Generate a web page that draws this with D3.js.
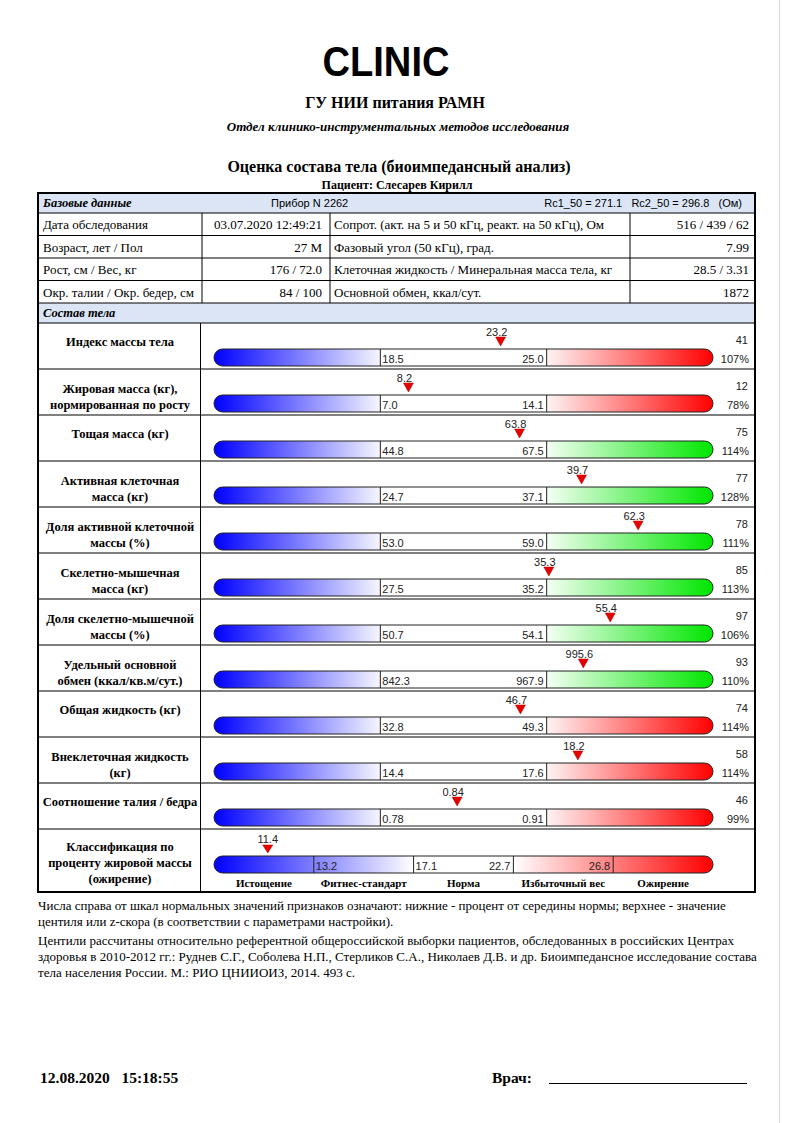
<!doctype html>
<html>
<head>
<meta charset="utf-8">
<script src="https://d3js.org/d3.v7.min.js"></script>
<style>
  body { margin:0; background:#fff; }
  .serif { font-family:"Liberation Serif","Times New Roman",serif; }
  .sans { font-family:"Liberation Sans",Arial,sans-serif; }
</style>
</head>
<body>
<div class="page"></div>
<script>
// --- basic data ---
var baseLeft = ["Дата обследования", "Возраст, лет / Пол", "Рост, см / Вес, кг", "Окр. талии / Окр. бедер, см"];
var baseLeftVal = ["03.07.2020 12:49:21", "27 М", "176 / 72.0", "84 / 100"];
var baseRight = ["Сопрот. (акт. на 5 и 50 кГц, реакт. на 50 кГц), Ом", "Фазовый угол (50 кГц), град.",
                 "Клеточная жидкость / Минеральная масса тела, кг", "Основной обмен, ккал/сут."];
var baseRightVal = ["516 / 439 / 62", "7.99", "28.5 / 3.31", "1872"];

// --- body composition ---
var rowLabels = [
  ["Индекс массы тела"],
  ["Жировая масса (кг),", "нормированная по росту"],
  ["Тощая масса (кг)"],
  ["Активная клеточная", "масса (кг)"],
  ["Доля активной клеточной", "массы (%)"],
  ["Скелетно-мышечная", "масса (кг)"],
  ["Доля скелетно-мышечной", "массы (%)"],
  ["Удельный основной", "обмен (ккал/кв.м/сут.)"],
  ["Общая жидкость (кг)"],
  ["Внеклеточная жидкость", "(кг)"],
  ["Соотношение талия / бедра"]
];
var normLow  = [18.5, 7.0, 44.8, 24.7, 53.0, 27.5, 50.7, 842.3, 32.8, 14.4, 0.78];
var normHigh = [25.0, 14.1, 67.5, 37.1, 59.0, 35.2, 54.1, 967.9, 49.3, 17.6, 0.91];
var values   = [23.2, 8.2, 63.8, 39.7, 62.3, 35.3, 55.4, 995.6, 46.7, 18.2, 0.84];
var decimals = [1, 1, 1, 1, 1, 1, 1, 1, 1, 1, 2];
var centiles = [41, 12, 75, 77, 78, 85, 97, 93, 74, 58, 46];
var percents = [107, 78, 114, 128, 111, 113, 106, 110, 114, 114, 99];
var highKind = ["red", "red", "green", "green", "green", "green", "green", "green", "red", "red", "red"];

var fatBounds = [13.2, 17.1, 22.7, 26.8];
var fatValue = 11.4;
var fatClasses = ["Истощение", "Фитнес-стандарт", "Норма", "Избыточный вес", "Ожирение"];

var W = 794, H = 1123;
var svg = d3.select(".page").append("svg").attr("width", W).attr("height", H);

var defs = svg.append("defs");
function grad(id, c1, c2, x1, x2) {
  var g = defs.append("linearGradient").attr("id", id).attr("gradientUnits", "userSpaceOnUse")
    .attr("x1", x1).attr("x2", x2).attr("y1", 0).attr("y2", 0);
  g.append("stop").attr("offset", 0).attr("stop-color", c1);
  g.append("stop").attr("offset", 1).attr("stop-color", c2);
}

// page edge
svg.append("line").attr("x1", 779.5).attr("x2", 779.5).attr("y1", 0).attr("y2", H)
  .attr("stroke", "#d8d8d8");

// --- titles ---
svg.append("text").attr("class", "sans").attr("x", 386).attr("y", 76).attr("text-anchor", "middle")
  .attr("font-size", 42).attr("font-weight", "bold").attr("textLength", 127)
  .attr("lengthAdjust", "spacingAndGlyphs").text("CLINIC");
svg.append("text").attr("class", "serif").attr("x", 395).attr("y", 108).attr("text-anchor", "middle")
  .attr("font-size", 16).attr("font-weight", "bold").text("ГУ НИИ питания РАМН");
svg.append("text").attr("class", "serif").attr("x", 398).attr("y", 131).attr("text-anchor", "middle")
  .attr("font-size", 13).attr("font-style", "italic").attr("font-weight", "bold").text("Отдел клинико-инструментальных методов исследования");
svg.append("text").attr("class", "serif").attr("x", 399).attr("y", 172).attr("text-anchor", "middle")
  .attr("font-size", 16).attr("font-weight", "bold").text("Оценка состава тела (биоимпедансный анализ)");
svg.append("text").attr("class", "serif").attr("x", 397).attr("y", 189).attr("text-anchor", "middle")
  .attr("font-size", 12).attr("font-weight", "bold").text("Пациент: Слесарев Кирилл");

// --- main table frame ---
var L = 38, R = 755, T = 193, B = 892;
var headFill = "#dbe5f6";

svg.append("rect").attr("x", L).attr("y", T).attr("width", R - L).attr("height", 20).attr("fill", headFill);
svg.append("rect").attr("x", L).attr("y", 303).attr("width", R - L).attr("height", 20).attr("fill", headFill);

svg.append("text").attr("class", "serif").attr("x", 43).attr("y", 207).attr("font-size", 12.5)
  .attr("font-weight", "bold").attr("font-style", "italic").text("Базовые данные");
svg.append("text").attr("class", "sans").attr("x", 271).attr("y", 207).attr("font-size", 11)
  .text("Прибор N 2262");
svg.append("text").attr("class", "sans").attr("x", 742).attr("y", 207).attr("font-size", 11)
  .attr("text-anchor", "end").attr("xml:space", "preserve").text("Rc1_50 = 271.1   Rc2_50 = 296.8   (Ом)");
svg.append("text").attr("class", "serif").attr("x", 43).attr("y", 317).attr("font-size", 12.5)
  .attr("font-weight", "bold").attr("font-style", "italic").text("Состав тела");

// basic rows
var baseY = d3.scaleBand().domain(d3.range(baseLeft.length)).range([213, 303]);
var bRows = svg.append("g").selectAll("g").data(baseLeft).enter().append("g")
  .attr("transform", function(d, i) { return "translate(0," + baseY(i) + ")"; });
bRows.append("line").attr("x1", L).attr("x2", R).attr("y1", 0).attr("y2", 0).attr("stroke", "#000");
bRows.append("text").attr("class", "serif").attr("x", 43).attr("y", 16).attr("font-size", 13)
  .text(function(d) { return d; });
bRows.append("text").attr("class", "serif").attr("x", 322).attr("y", 16).attr("font-size", 13)
  .attr("text-anchor", "end").text(function(d, i) { return baseLeftVal[i]; });
bRows.append("text").attr("class", "serif").attr("x", 334).attr("y", 16).attr("font-size", 13)
  .text(function(d, i) { return baseRight[i]; });
bRows.append("text").attr("class", "serif").attr("x", 749).attr("y", 16).attr("font-size", 13)
  .attr("text-anchor", "end").text(function(d, i) { return baseRightVal[i]; });
[202, 330, 630].forEach(function(x) {
  svg.append("line").attr("x1", x).attr("x2", x).attr("y1", 213).attr("y2", 303).attr("stroke", "#000");
});
svg.append("line").attr("x1", L).attr("x2", R).attr("y1", 303).attr("y2", 303).attr("stroke", "#000");
svg.append("line").attr("x1", L).attr("x2", R).attr("y1", 323).attr("y2", 323).attr("stroke", "#000");

// --- composition rows ---
var rowY = d3.scaleBand().domain(d3.range(rowLabels.length)).range([323, 829]);
var seg = d3.scaleLinear().domain([0, 3]).range([214, 713]);
var barH = 17, barOff = 26, rad = 8.5;

grad("gBlue", "#0000ff", "#f6f6ff", seg(0), seg(1));
grad("gRed", "#fff4f4", "#ff0000", seg(2), seg(3));
grad("gGreen", "#f4fff4", "#00e600", seg(2), seg(3));

function roundBar(g, x0, x1, y) {
  return "M" + (x0 + rad) + "," + y + "H" + (x1 - rad) +
    "A" + rad + "," + rad + " 0 0 1 " + (x1 - rad) + "," + (y + barH) +
    "H" + (x0 + rad) + "A" + rad + "," + rad + " 0 0 1 " + (x0 + rad) + "," + y + "Z";
}

var rows = svg.append("g").selectAll("g").data(rowLabels).enter().append("g")
  .attr("transform", function(d, i) { return "translate(0," + rowY(i) + ")"; });

rows.append("line").attr("x1", L).attr("x2", R).attr("y1", 46).attr("y2", 46).attr("stroke", "#000");

rows.each(function(lines, i) {
  var g = d3.select(this);
  var y0 = lines.length === 1 ? 23 : 24;
  lines.forEach(function(t, k) {
    g.append("text").attr("class", "serif").attr("x", 120).attr("y", y0 + k * 16)
      .attr("text-anchor", "middle").attr("font-size", 12.5).attr("font-weight", "bold").text(t);
  });

  var x = d3.scaleLinear().domain([normLow[i], normHigh[i]]).range([seg(1), seg(2)]);
  var fmt = d3.format("." + decimals[i] + "f");
  var by = barOff;
  var clipId = "clip" + i;
  defs.append("clipPath").attr("id", clipId).append("path")
    .attr("d", roundBar(g, seg(0), seg(3), rowY(i) + by));

  var bar = g.append("g").attr("clip-path", "url(#" + clipId + ")")
    .attr("transform", "translate(0," + (-rowY(i)) + ")");
  bar.append("rect").attr("x", seg(0)).attr("y", rowY(i) + by).attr("width", seg(1) - seg(0)).attr("height", barH)
    .attr("fill", "url(#gBlue)");
  bar.append("rect").attr("x", seg(1)).attr("y", rowY(i) + by).attr("width", seg(2) - seg(1)).attr("height", barH)
    .attr("fill", "#fff");
  bar.append("rect").attr("x", seg(2)).attr("y", rowY(i) + by).attr("width", seg(3) - seg(2)).attr("height", barH)
    .attr("fill", highKind[i] === "red" ? "url(#gRed)" : "url(#gGreen)");
  g.append("path").attr("d", roundBar(g, seg(0), seg(3), by)).attr("fill", "none").attr("stroke", "#222");
  [seg(1), seg(2)].forEach(function(sx) {
    g.append("line").attr("x1", sx).attr("x2", sx).attr("y1", by).attr("y2", by + barH).attr("stroke", "#222");
  });

  g.append("text").attr("class", "sans").attr("x", seg(1) + 2).attr("y", by + 14).attr("font-size", 11)
    .attr("fill", "#222").text(fmt(normLow[i]));
  g.append("text").attr("class", "sans").attr("x", seg(2) - 3).attr("y", by + 14).attr("font-size", 11)
    .attr("text-anchor", "end").attr("fill", "#222").text(fmt(normHigh[i]));

  var mx = x(values[i]);
  g.append("path").attr("d", "M" + (mx - 5) + ",14L" + (mx + 5) + ",14L" + mx + ",23Z")
    .attr("fill", "#e60000").attr("stroke", "#b00000").attr("stroke-width", 0.5);
  g.append("text").attr("class", "sans").attr("x", mx - 4).attr("y", 13).attr("font-size", 11)
    .attr("text-anchor", "middle").attr("fill", "#222").text(fmt(values[i]));

  g.append("text").attr("class", "sans").attr("x", 748).attr("y", 21).attr("font-size", 11)
    .attr("text-anchor", "end").attr("fill", "#222").text(centiles[i]);
  g.append("text").attr("class", "sans").attr("x", 749).attr("y", 40).attr("font-size", 11)
    .attr("text-anchor", "end").attr("fill", "#222").text(percents[i] + "%");
});

// --- fat classification row ---
var fy = 829;
var fseg = d3.scaleLinear().domain([0, 5]).range([214, 713]);
var fx = d3.scaleLinear().domain(fatBounds).range([fseg(1), fseg(2), fseg(3), fseg(4)]);
var fg = svg.append("g").attr("transform", "translate(0," + fy + ")");
["Классификация по", "проценту жировой массы", "(ожирение)"].forEach(function(t, k) {
  fg.append("text").attr("class", "serif").attr("x", 120).attr("y", 22 + k * 16).attr("text-anchor", "middle")
    .attr("font-size", 12.5).attr("font-weight", "bold").text(t);
});
grad("gFatBlue", "#0000ff", "#ffffff", fseg(0), fseg(2));
grad("gFatRed", "#ffffff", "#ff0000", fseg(3), fseg(5));
var fby = 27;
defs.append("clipPath").attr("id", "clipFat").append("path").attr("d", roundBar(null, fseg(0), fseg(5), fy + fby));
var fbar = fg.append("g").attr("clip-path", "url(#clipFat)").attr("transform", "translate(0," + (-fy) + ")");
fbar.append("rect").attr("x", fseg(0)).attr("y", fy + fby).attr("width", fseg(2) - fseg(0)).attr("height", barH)
  .attr("fill", "url(#gFatBlue)");
fbar.append("rect").attr("x", fseg(2)).attr("y", fy + fby).attr("width", fseg(3) - fseg(2)).attr("height", barH)
  .attr("fill", "#fff");
fbar.append("rect").attr("x", fseg(3)).attr("y", fy + fby).attr("width", fseg(5) - fseg(3)).attr("height", barH)
  .attr("fill", "url(#gFatRed)");
fg.append("path").attr("d", roundBar(null, fseg(0), fseg(5), fby)).attr("fill", "none").attr("stroke", "#222");
fatBounds.forEach(function(b, k) {
  var sx = fx(b);
  fg.append("line").attr("x1", sx).attr("x2", sx).attr("y1", fby).attr("y2", fby + barH).attr("stroke", "#222");
  var left = (k === 0 || k === 1);
  var tx = left ? sx + 2 : sx - 3;
  fg.append("text").attr("class", "sans").attr("x", tx).attr("y", fby + 14).attr("font-size", 11)
    .attr("text-anchor", left ? "start" : "end").attr("fill", "#222").text(d3.format(".1f")(b));
});
var fmx = fx(fatValue);
fg.append("path").attr("d", "M" + (fmx - 5) + ",16L" + (fmx + 5) + ",16L" + fmx + ",24Z")
  .attr("fill", "#e60000").attr("stroke", "#b00000").attr("stroke-width", 0.5);
fg.append("text").attr("class", "sans").attr("x", fmx).attr("y", 14).attr("font-size", 11)
  .attr("text-anchor", "middle").attr("fill", "#222").text(d3.format(".1f")(fatValue));
fg.selectAll(".cls").data(fatClasses).enter().append("text").attr("class", "serif")
  .attr("x", function(d, k) { return (fseg(k) + fseg(k + 1)) / 2; }).attr("y", 58)
  .attr("text-anchor", "middle").attr("font-size", 11).attr("font-weight", "bold").text(function(d) { return d; });

// label column + outer frame
svg.append("line").attr("x1", 200.5).attr("x2", 200.5).attr("y1", 323).attr("y2", B).attr("stroke", "#000");
svg.append("rect").attr("x", L).attr("y", T).attr("width", R - L).attr("height", B - T)
  .attr("fill", "none").attr("stroke", "#000").attr("stroke-width", 2);

// --- notes ---
var notes = [
  ["Числа справа от шкал нормальных значений признаков означают: нижние - процент от середины нормы; верхнее - значение",
   "центиля или z-скора (в соответствии с параметрами настройки)."],
  ["Центили рассчитаны относительно референтной общероссийской выборки пациентов, обследованных в российских Центрах",
   "здоровья в 2010-2012 гг.: Руднев С.Г., Соболева Н.П., Стерликов С.А., Николаев Д.В. и др. Биоимпедансное исследование состава",
   "тела населения России. М.: РИО ЦНИИОИЗ, 2014. 493 с."]
];
var ny = 910;
notes.forEach(function(p) {
  p.forEach(function(t) {
    svg.append("text").attr("class", "serif").attr("x", 38).attr("y", ny).attr("font-size", 13).text(t);
    ny += 16;
  });
  ny += 3;
});

// --- footer ---
svg.append("text").attr("class", "serif").attr("x", 40).attr("y", 1083).attr("font-size", 15.5)
  .attr("font-weight", "bold").attr("xml:space", "preserve").text("12.08.2020   15:18:55");
svg.append("text").attr("class", "serif").attr("x", 492).attr("y", 1083).attr("font-size", 15.5)
  .attr("font-weight", "bold").text("Врач:");
svg.append("line").attr("x1", 549).attr("x2", 747).attr("y1", 1083.5).attr("y2", 1083.5).attr("stroke", "#000");
</script>
</body>
</html>
